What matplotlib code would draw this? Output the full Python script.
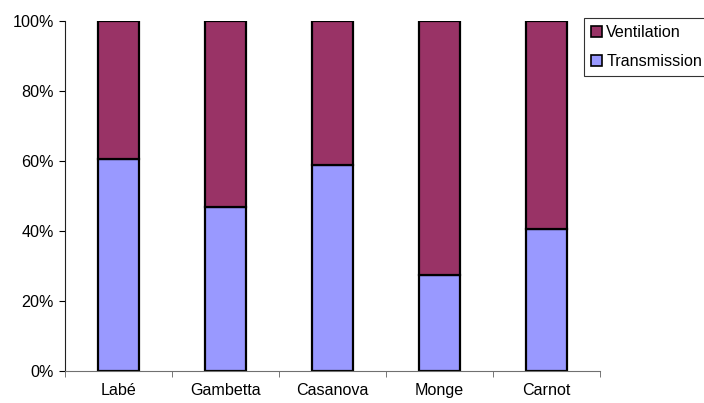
import numpy as np
import matplotlib.pyplot as plt
from matplotlib.patches import Patch
from matplotlib.ticker import FixedLocator, PercentFormatter

plt.rcParams['font.family'] = ['Liberation Sans', 'DejaVu Sans']

# Share of heat losses per building (percent)
sites = ["Labé", "Gambetta", "Casanova", "Monge", "Carnot"]
transmission = [60.7, 46.9, 58.9, 27.3, 40.7]
ventilation = [100 - t for t in transmission]

c_vent = "#993366"
c_trans = "#9999FF"
fs = 11.6

fig = plt.figure(figsize=(7.04, 4.03), dpi=100)
ax = fig.add_axes([0.0923, 0.0794, 0.7600, 0.8686])

x = np.arange(len(sites))
ax.bar(x, transmission, width=0.39, color=c_trans, edgecolor="black", linewidth=1.6)
ax.bar(x, ventilation, width=0.39, bottom=transmission, color=c_vent,
       edgecolor="black", linewidth=1.6)

ax.set_xlim(-0.5, len(sites) - 0.5)
ax.set_ylim(0, 100)
ax.set_yticks(np.arange(0, 101, 20))
ax.yaxis.set_major_formatter(PercentFormatter(decimals=0))

ax.set_xticks(x)
ax.set_xticklabels(sites)
ax.xaxis.set_minor_locator(FixedLocator(np.arange(-0.5, len(sites), 1)))
ax.tick_params(axis="x", which="major", length=0, pad=8.5, labelsize=fs)
ax.tick_params(axis="x", which="minor", length=4, direction="out", color="#606060")
ax.tick_params(axis="y", length=4, direction="out", labelsize=fs, pad=4)

for s in ["top", "right"]:
    ax.spines[s].set_visible(False)
ax.spines["left"].set_color("#202020")
ax.spines["bottom"].set_color("#707070")

handles = [Patch(facecolor=c_vent, edgecolor="black", linewidth=1.2, label="Ventilation"),
           Patch(facecolor=c_trans, edgecolor="black", linewidth=1.2, label="Transmission")]
leg = fig.legend(handles=handles, loc="upper left", bbox_to_anchor=(0.8295, 0.955),
                 fontsize=fs, frameon=True, fancybox=False, handlelength=0.68,
                 handleheight=0.68, handletextpad=0.25, borderpad=0.45,
                 labelspacing=0.85, borderaxespad=0)
leg.get_frame().set_edgecolor("black")
leg.get_frame().set_linewidth(0.8)

fig.savefig("out.png", dpi=100)
